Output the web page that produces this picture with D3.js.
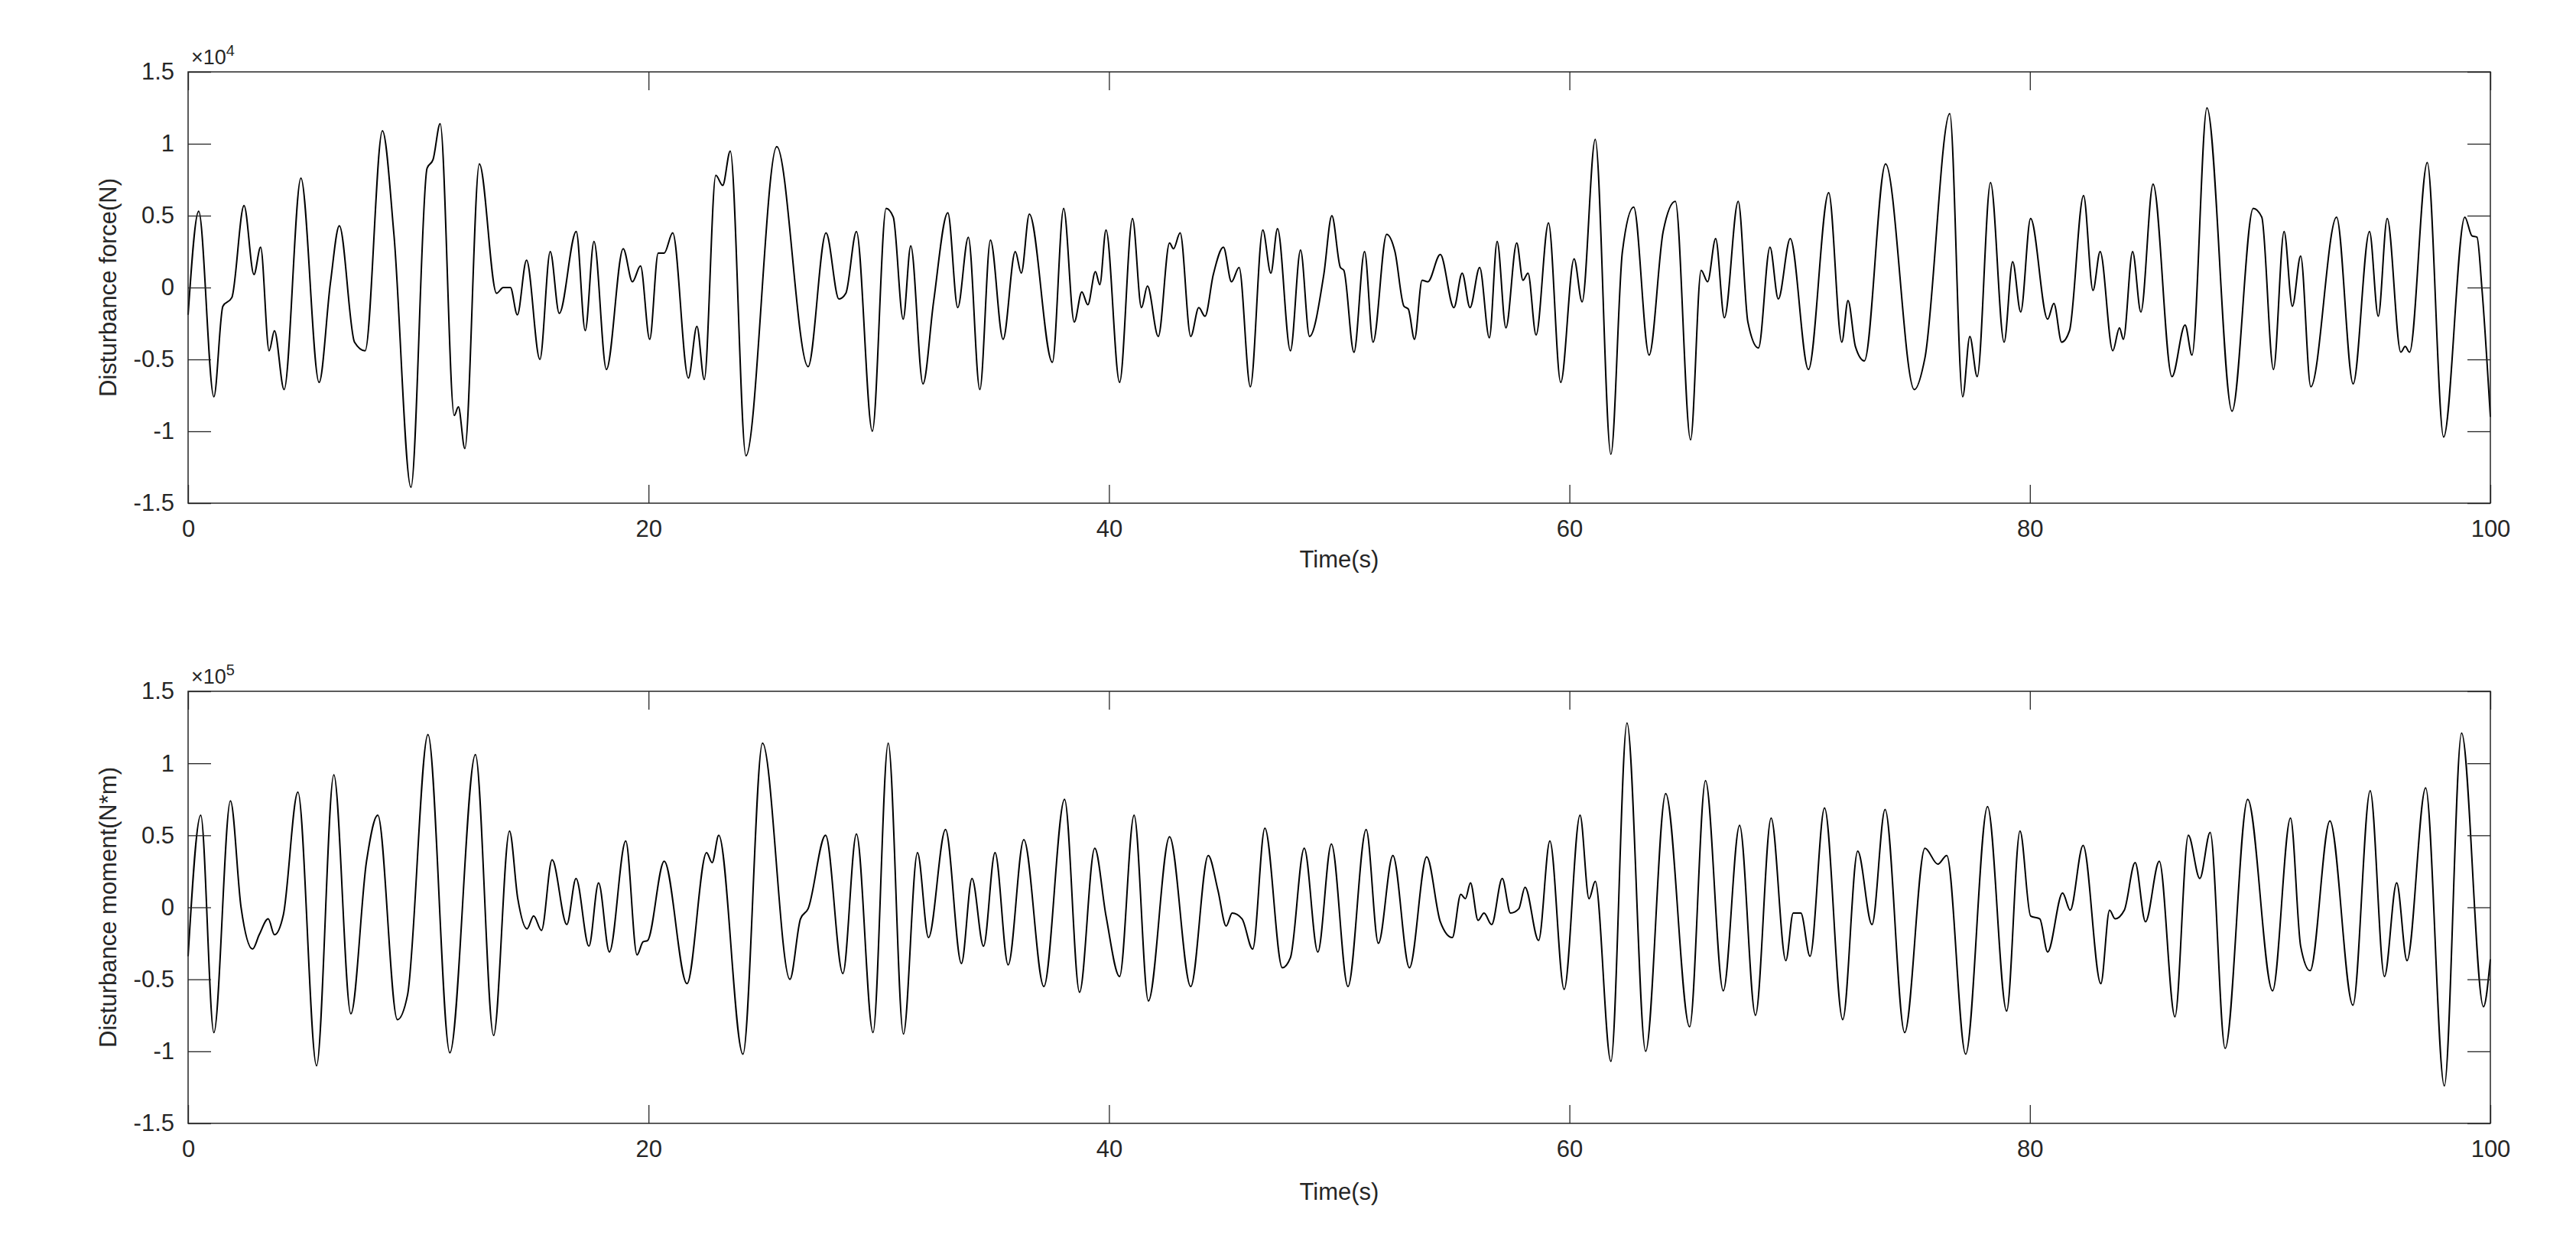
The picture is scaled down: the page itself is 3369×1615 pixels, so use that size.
<!DOCTYPE html>
<html>
<head>
<meta charset="utf-8">
<script src="https://cdn.jsdelivr.net/npm/d3@7"></script>
<style>
  html, body { margin: 0; padding: 0; background: #fff; }
  svg { display: block; }
  text { font-family: "Liberation Sans", Arial, Helvetica, sans-serif; fill: #262626; }
</style>
</head>
<body>
<svg id="chart" width="3369" height="1615"></svg>
<script>
// ---------------- DATA ----------------
// Disturbance force, in units of 1e4 N
const forceTime = [0,0.46,1.12,1.51,1.9,2.43,2.86,3.15,3.52,3.75,4.17,4.9,5.69,6.18,6.57,7.23,7.69,8.44,8.94,9.68,
  10.38,10.64,10.95,11.56,11.74,12.02,12.65,13.4,13.69,14.0,14.3,14.7,15.28,15.73,16.12,16.86,17.25,17.63,18.17,18.9,
  19.3,19.65,20.05,20.42,20.68,21.05,21.73,22.1,22.42,22.92,23.22,23.55,24.23,25.57,26.93,27.71,28.27,28.57,29.03,29.72,
  30.32,30.63,31.06,31.39,31.92,32.38,33.0,33.43,33.89,34.39,34.85,35.4,35.93,36.19,36.54,37.54,38.03,38.49,38.82,39.08,
  39.41,39.6,39.87,40.46,41.02,41.41,41.67,42.14,42.63,42.8,43.09,43.55,43.9,44.17,44.53,44.97,45.32,45.65,46.14,46.68,
  47.03,47.32,47.88,48.32,48.71,49.33,49.68,50.05,50.2,50.64,51.1,51.47,52.06,52.42,52.81,53.0,53.27,53.6,53.85,54.39,
  54.98,55.34,55.68,56.1,56.52,56.86,57.24,57.71,57.98,58.2,58.55,59.09,59.62,60.2,60.55,61.12,61.8,62.3,62.79,63.46,
  64.07,64.6,65.26,65.72,66.0,66.35,66.73,67.33,67.75,68.21,68.71,69.07,69.59,70.38,71.26,71.83,72.1,72.42,72.81,73.73,
  74.98,75.44,76.52,77.08,77.39,77.71,78.29,78.88,79.25,79.6,80.03,80.77,81.04,81.38,81.72,82.33,82.74,83.05,83.6,83.89,
  84.06,84.46,84.82,85.35,86.17,86.74,87.04,87.69,88.78,89.7,90.07,90.58,91.04,91.4,91.76,92.2,93.32,94.04,94.75,95.13,
  95.52,96.11,96.3,96.49,97.26,97.97,98.89,99.2,99.42,99.63,100];
const forceVals = [-0.19,0.53,-0.76,-0.13,-0.07,0.57,0.09,0.28,-0.44,-0.30,-0.71,0.76,-0.66,0.03,0.43,-0.38,-0.44,1.09,0.37,-1.39,
  0.83,0.89,1.14,-0.89,-0.83,-1.12,0.86,-0.04,0.0,0.0,-0.19,0.19,-0.5,0.25,-0.18,0.39,-0.3,0.32,-0.57,0.27,
  0.04,0.15,-0.36,0.24,0.24,0.38,-0.63,-0.27,-0.64,0.78,0.71,0.95,-1.17,0.98,-0.55,0.38,-0.08,-0.04,0.39,-1.0,
  0.55,0.49,-0.22,0.29,-0.67,-0.1,0.52,-0.14,0.35,-0.71,0.33,-0.36,0.25,0.1,0.51,-0.52,0.55,-0.24,-0.03,-0.12,
  0.11,0.02,0.40,-0.66,0.48,-0.14,0.01,-0.34,0.31,0.27,0.38,-0.34,-0.14,-0.2,0.09,0.28,0.04,0.14,-0.69,0.40,
  0.1,0.41,-0.44,0.26,-0.34,0.09,0.50,0.14,0.12,-0.45,0.25,-0.38,0.37,0.25,-0.13,-0.15,-0.36,0.05,0.04,0.23,
  -0.14,0.1,-0.14,0.14,-0.35,0.32,-0.28,0.31,0.05,0.1,-0.33,0.45,-0.66,0.2,-0.1,1.03,-1.16,0.25,0.56,-0.47,
  0.39,0.6,-1.06,0.12,0.04,0.34,-0.21,0.6,-0.24,-0.42,0.28,-0.08,0.34,-0.57,0.66,-0.38,-0.09,-0.41,-0.51,0.86,
  -0.71,-0.49,1.21,-0.76,-0.34,-0.62,0.73,-0.38,0.18,-0.17,0.48,-0.22,-0.11,-0.38,-0.3,0.64,-0.02,0.25,-0.44,-0.28,
  -0.36,0.25,-0.17,0.72,-0.62,-0.26,-0.47,1.25,-0.86,0.55,0.49,-0.57,0.39,-0.13,0.22,-0.69,0.49,-0.67,0.39,-0.2,
  0.48,-0.45,-0.41,-0.45,0.87,-1.04,0.49,0.36,0.35,0.0,-0.9];

// Disturbance moment, in units of 1e5 N*m
const momentTime = [0,0.55,1.12,1.84,2.3,2.8,3.09,3.48,3.75,4.14,4.77,5.58,6.33,7.07,7.75,8.24,9.09,9.53,10.42,11.37,
  12.48,13.27,13.96,14.32,14.72,15.01,15.35,15.81,16.45,16.85,17.41,17.83,18.3,19.01,19.5,19.76,19.96,20.68,21.67,22.52,
  22.76,23.05,24.1,24.95,26.14,26.6,26.93,27.69,28.44,29.03,29.75,30.41,31.07,31.68,32.16,32.9,33.59,34.05,34.55,35.05,
  35.62,36.3,37.17,38.07,38.72,39.38,39.87,40.46,41.09,41.71,42.63,43.55,44.31,44.73,45.09,45.35,45.78,46.24,46.77,47.53,
  47.88,48.48,49.07,49.66,50.38,51.17,51.7,52.33,53.05,53.8,54.39,54.91,55.28,55.48,55.7,56.03,56.29,56.62,57.08,57.44,
  57.8,58.07,58.66,59.15,59.77,60.46,60.85,61.12,61.8,62.5,63.31,64.18,65.22,65.91,66.68,67.39,68.08,68.76,69.4,69.72,
  70.05,70.45,71.08,71.87,72.52,73.14,73.71,74.56,75.44,76.0,76.39,77.21,78.16,78.99,79.57,80.03,80.43,80.77,81.42,81.75,
  82.31,83.08,83.46,83.7,84.1,84.57,85.02,85.62,86.3,86.88,87.38,87.83,88.48,89.46,90.54,91.32,91.76,92.17,93.03,94.03,
  94.78,95.4,95.93,96.38,97.19,98.0,98.75,99.7,100];
const momentVals = [-0.34,0.64,-0.87,0.74,0.0,-0.29,-0.19,-0.08,-0.19,-0.05,0.8,-1.1,0.92,-0.74,0.32,0.64,-0.78,-0.61,1.2,-1.01,
  1.06,-0.89,0.53,0.06,-0.15,-0.06,-0.16,0.33,-0.12,0.2,-0.27,0.17,-0.31,0.46,-0.33,-0.24,-0.23,0.32,-0.53,0.38,
  0.31,0.5,-1.02,1.14,-0.5,-0.08,-0.01,0.5,-0.46,0.51,-0.87,1.14,-0.88,0.38,-0.21,0.54,-0.39,0.2,-0.27,0.38,
  -0.4,0.47,-0.55,0.75,-0.59,0.41,-0.06,-0.48,0.64,-0.65,0.49,-0.55,0.36,0.12,-0.13,-0.04,-0.08,-0.29,0.55,-0.42,
  -0.35,0.41,-0.31,0.44,-0.55,0.54,-0.25,0.36,-0.42,0.35,-0.1,-0.21,0.09,0.06,0.17,-0.09,-0.04,-0.12,0.2,-0.04,
  -0.01,0.14,-0.23,0.46,-0.57,0.64,0.06,0.18,-1.07,1.28,-1.0,0.79,-0.83,0.88,-0.58,0.57,-0.75,0.62,-0.37,-0.04,
  -0.04,-0.34,0.69,-0.78,0.39,-0.12,0.68,-0.87,0.41,0.3,0.36,-1.02,0.7,-0.72,0.53,-0.06,-0.08,-0.31,0.1,-0.02,
  0.43,-0.53,-0.02,-0.08,-0.02,0.31,-0.1,0.32,-0.76,0.5,0.2,0.52,-0.98,0.75,-0.58,0.62,-0.27,-0.44,0.6,-0.68,
  0.81,-0.48,0.17,-0.37,0.83,-1.24,1.21,-0.69,-0.36];

const xTicks = [0, 20, 40, 60, 80, 100];
const yTicks = [-1.5, -1, -0.5, 0, 0.5, 1, 1.5];
const xDomain = [0, 100];
const yDomain = [-1.5, 1.5];

const panels = [
  { time: forceTime, vals: forceVals, ylabel: "Disturbance force(N)", exp: "4", top: 94, bottom: 658, xlab: 84 },
  { time: momentTime, vals: momentVals, ylabel: "Disturbance moment(N*m)", exp: "5", top: 904, bottom: 1469, xlab: 100 }
];

// ---------------- DRAWING ----------------
const svg = d3.select("#chart");
const left = 246, right = 3257;
const axisColor = "#262626";
const fs = 31;

panels.forEach(p => {
  const x = d3.scaleLinear().domain(xDomain).range([left, right]);
  const y = d3.scaleLinear().domain(yDomain).range([p.bottom, p.top]);
  const g = svg.append("g");

  g.append("rect").attr("x", left).attr("y", p.top)
    .attr("width", right - left).attr("height", p.bottom - p.top)
    .attr("fill", "#fff");

  const data = p.time.map((t, i) => [t, p.vals[i]]);
  const line = d3.line().x(d => x(d[0])).y(d => y(d[1])).curve(d3.curveMonotoneX);
  g.append("path").datum(data).attr("d", line)
    .attr("fill", "none").attr("stroke", "#000").attr("stroke-width", 2)
    .attr("stroke-linejoin", "round");

  const fmt = v => String(v);

  const ax = g.append("g").attr("transform", `translate(0,${p.bottom})`)
    .call(d3.axisBottom(x).tickValues(xTicks).tickSize(-24).tickPadding(22).tickFormat(fmt));
  const axT = g.append("g").attr("transform", `translate(0,${p.top})`)
    .call(d3.axisTop(x).tickValues(xTicks).tickSize(-24).tickFormat(""));
  const ay = g.append("g").attr("transform", `translate(${left},0)`)
    .call(d3.axisLeft(y).tickValues(yTicks).tickSize(-30).tickPadding(18).tickFormat(fmt));
  const ayR = g.append("g").attr("transform", `translate(${right},0)`)
    .call(d3.axisRight(y).tickValues(yTicks).tickSize(-30).tickFormat(""));

  [ax, axT, ay, ayR].forEach(a => {
    a.select(".domain").remove();
    a.selectAll(".tick line").attr("stroke", axisColor).attr("stroke-width", 1.3);
    a.selectAll("text").attr("font-size", fs).attr("fill", axisColor)
      .style("font-family", '"Liberation Sans", Arial, sans-serif');
  });

  g.append("rect").attr("x", left).attr("y", p.top)
    .attr("width", right - left).attr("height", p.bottom - p.top)
    .attr("fill", "none").attr("stroke", axisColor).attr("stroke-width", 1.5);

  const e = g.append("text").attr("x", left + 4).attr("y", p.top - 10)
    .attr("font-size", 27).attr("fill", "#404040");
  e.append("tspan").text("×10");
  e.append("tspan").attr("dy", -11).attr("font-size", 20).text(p.exp);

  g.append("text").attr("x", (left + right) / 2).attr("y", p.bottom + p.xlab)
    .attr("text-anchor", "middle").attr("font-size", fs).text("Time(s)");

  g.append("text")
    .attr("transform", `translate(152,${(p.top + p.bottom) / 2}) rotate(-90)`)
    .attr("text-anchor", "middle").attr("font-size", fs).text(p.ylabel);
});
</script>
</body>
</html>
